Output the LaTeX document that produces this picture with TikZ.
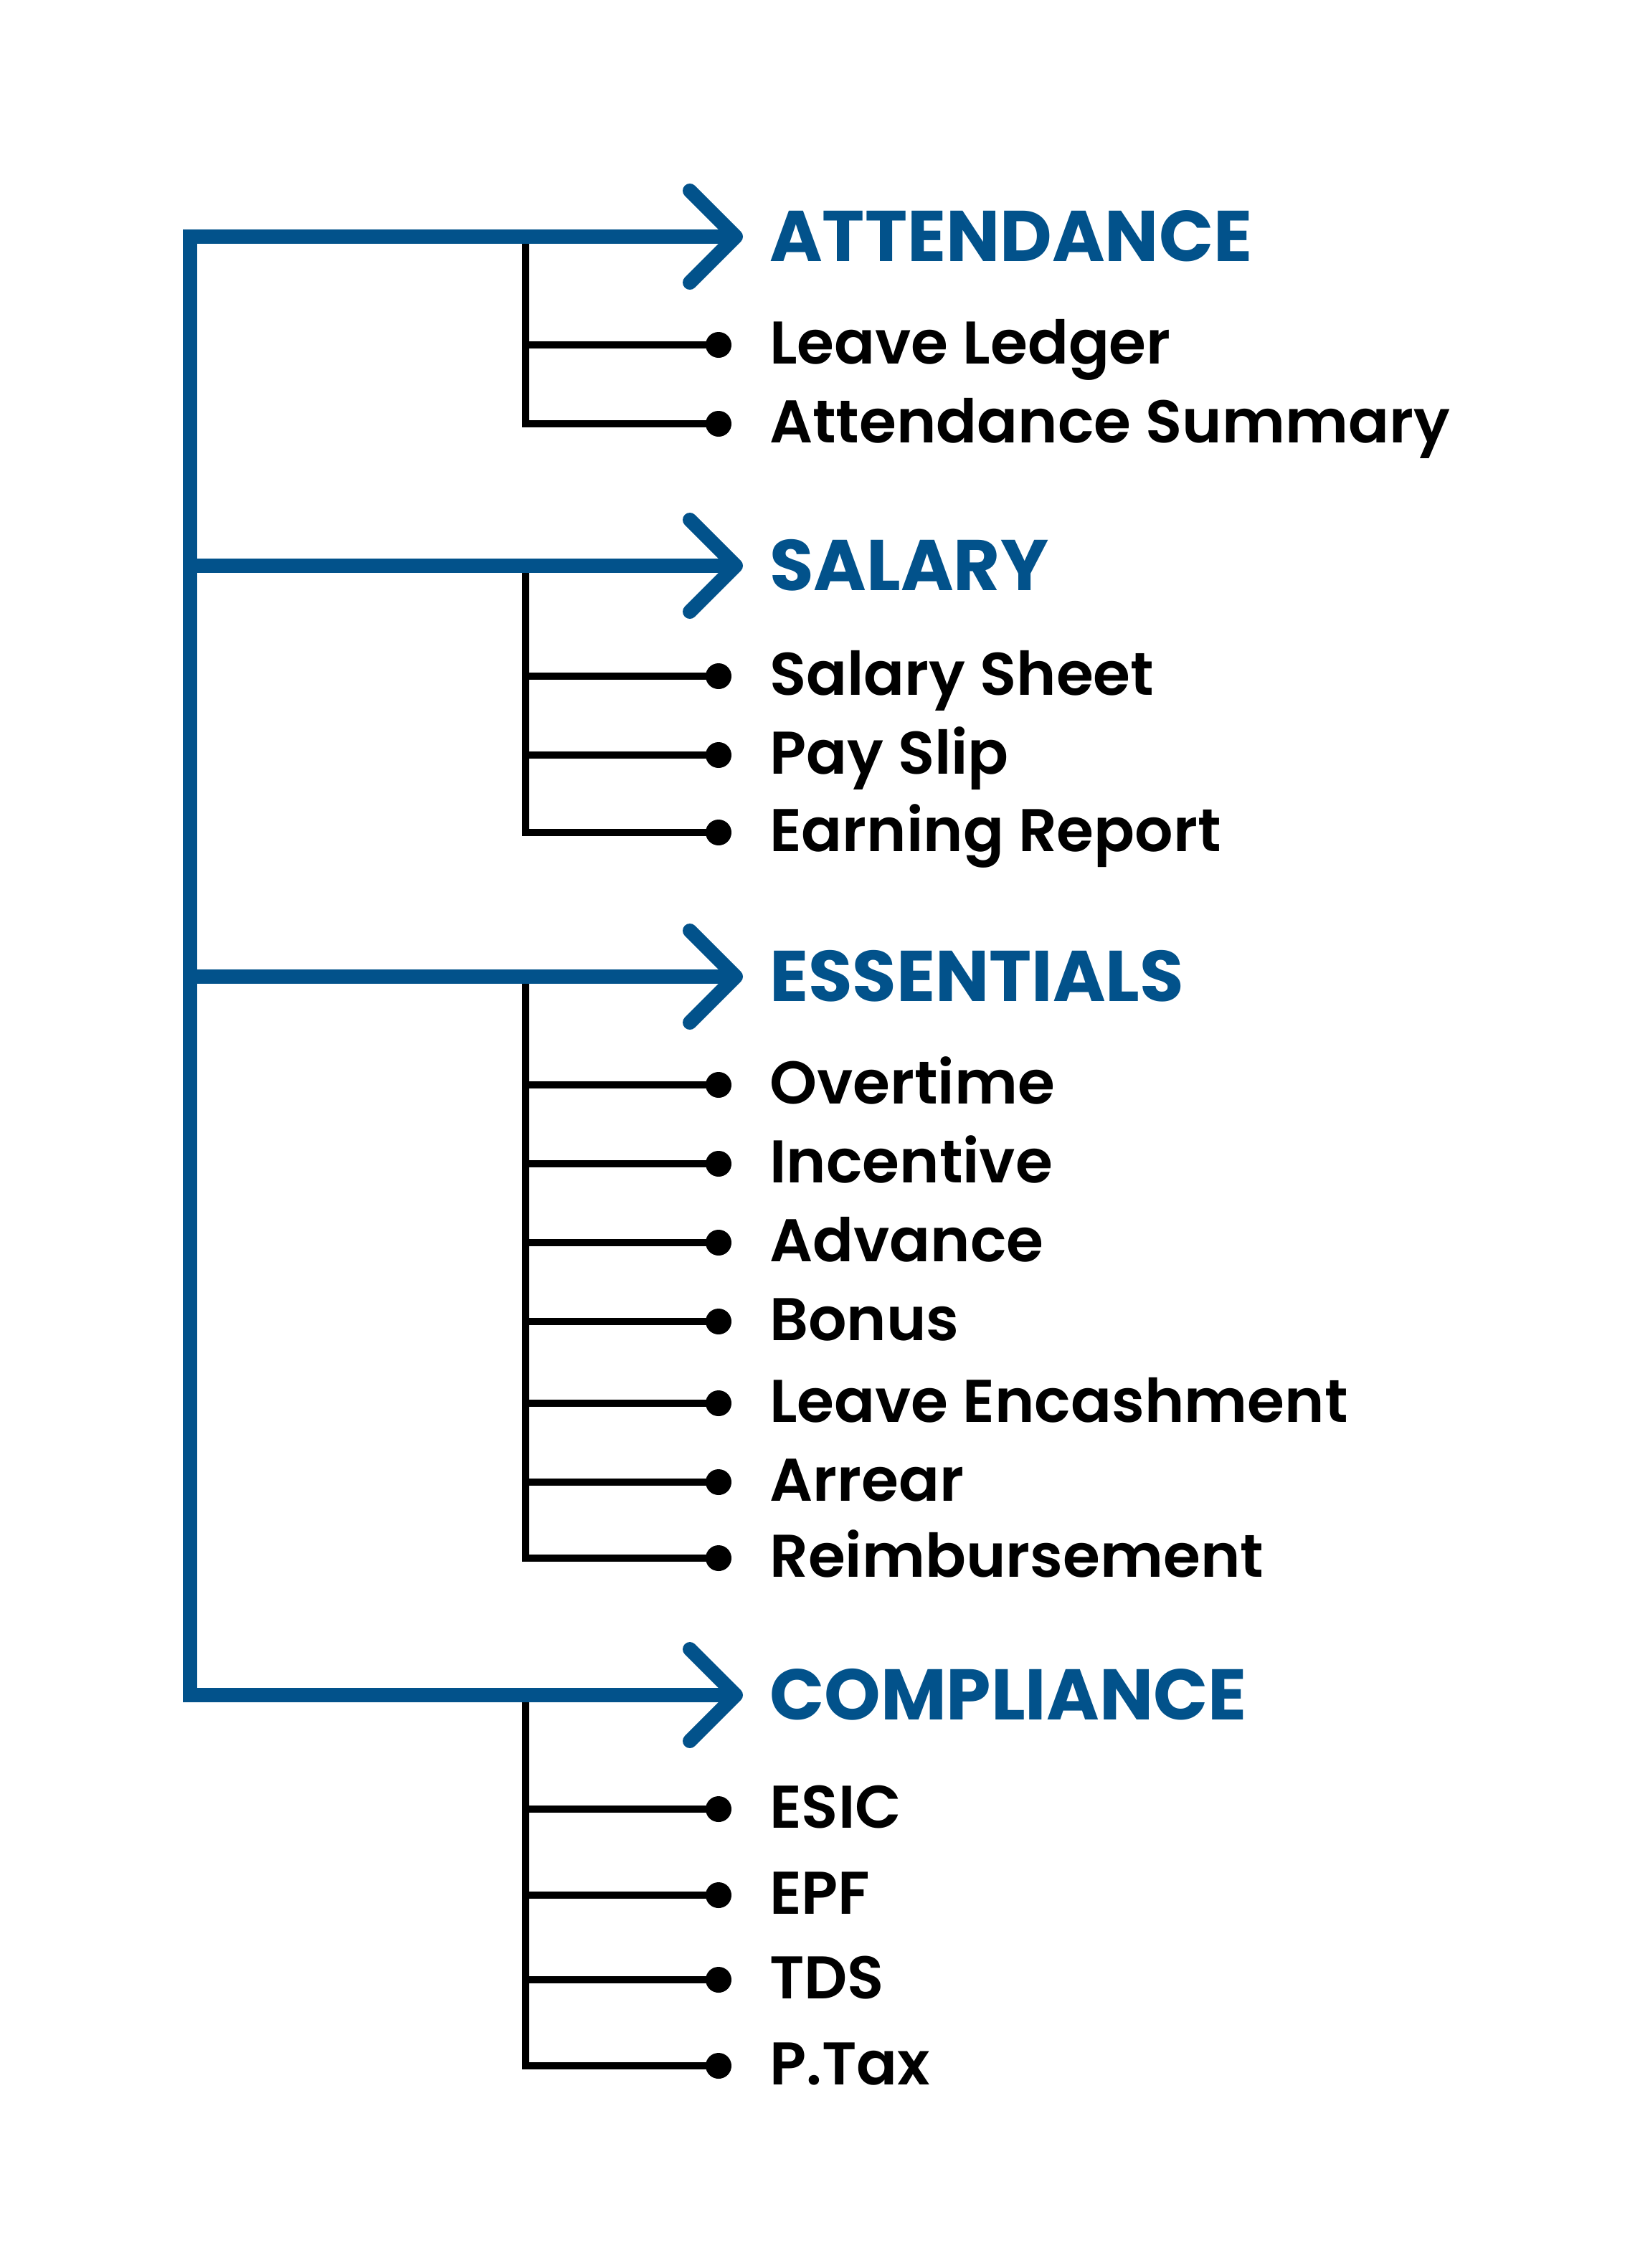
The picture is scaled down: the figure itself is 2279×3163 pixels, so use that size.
\documentclass[tikz,border=0pt]{standalone}
\usepackage{fontspec}
\setmainfont{Poppins}
\IfFontExistsTF{Poppins SemiBold}{\newfontfamily\itemfont{Poppins SemiBold}}{\newfontfamily\itemfont{Poppins}[FakeBold=1.5]}
\IfFontExistsTF{Poppins Bold}{\newfontfamily\headfont{Poppins Bold}}{\newfontfamily\headfont{Poppins}[FakeBold=2.5]}
\definecolor{brandblue}{RGB}{2,82,139}
\begin{document}
\begin{tikzpicture}[x=1pt,y=-1pt,
  trunk/.style={draw=brandblue,line width=20pt,line join=miter},
  chev/.style={draw=brandblue,line width=20pt,line join=round,line cap=round},
  twig/.style={draw=black,line width=10pt,line join=miter},
  dot/.style={circle,fill=black,minimum size=36pt,inner sep=0pt},
  headtxt/.style={anchor=base west,inner sep=0pt,text=brandblue,font=\headfont\fontsize{100}{110}\selectfont},
  itemtxt/.style={anchor=base west,inner sep=0pt,text=black,font=\itemfont\fontsize{84}{92}\selectfont}]
\fill[white] (0,0) rectangle (2279,3163);
\useasboundingbox (0,0) rectangle (2279,3163);

% group coordinates (y of blue lines)
\foreach \n/\y in {A/330,B/789,C/1362,D/2364}{
  \coordinate (g\n) at (265,\y);
  \coordinate (b\n) at (733,\y);
  \coordinate (ap\n) at (1026,\y);
  \coordinate (up\n) at (962,\y-64);
  \coordinate (lo\n) at (962,\y+64);
}

% headings
\node[headtxt] (hA) at (1073,364) {ATTENDANCE};
\node[headtxt] (hB) at (1073,823) {SALARY};
\node[headtxt] (hC) at (1073,1396) {ESSENTIALS};
\node[headtxt] (hD) at (1073,2398) {COMPLIANCE};

% items: dots and texts
\foreach \id/\y/\t in {A1/481/Leave Ledger, A2/591/Attendance Summary,
  B1/943/Salary Sheet, B2/1053/Pay Slip, B3/1161/Earning Report,
  C1/1513/Overtime, C2/1623/Incentive, C3/1733/Advance, C4/1843/Bonus,
  C5/1957/Leave Encashment, C6/2067/Arrear, C7/2173/Reimbursement,
  D1/2523/ESIC, D2/2643/EPF, D3/2761/TDS, D4/2881/P.Tax}{
  \node[dot] (d\id) at (1002,\y) {};
  \node[itemtxt] (t\id) at (1073,\y+26) {\t};
}

% black branches
\draw[twig] (bA) -- (bA |- dA2.center) -- (dA2.center);
\draw[twig] (bA |- dA1.center) -- (dA1.center);
\draw[twig] (bB) -- (bB |- dB3.center) -- (dB3.center);
\foreach \i in {1,2}{\draw[twig] (bB |- dB\i.center) -- (dB\i.center);}
\draw[twig] (bC) -- (bC |- dC7.center) -- (dC7.center);
\foreach \i in {1,...,6}{\draw[twig] (bC |- dC\i.center) -- (dC\i.center);}
\draw[twig] (bD) -- (bD |- dD4.center) -- (dD4.center);
\foreach \i in {1,2,3}{\draw[twig] (bD |- dD\i.center) -- (dD\i.center);}

% blue trunk and arrows
\draw[trunk] (apA) -- (gA) -- (gD) -- (apD);
\draw[trunk] (gB) -- (apB);
\draw[trunk] (gC) -- (apC);
\foreach \n in {A,B,C,D}{\draw[chev] (up\n) -- (ap\n) -- (lo\n);}
\end{tikzpicture}
\end{document}
